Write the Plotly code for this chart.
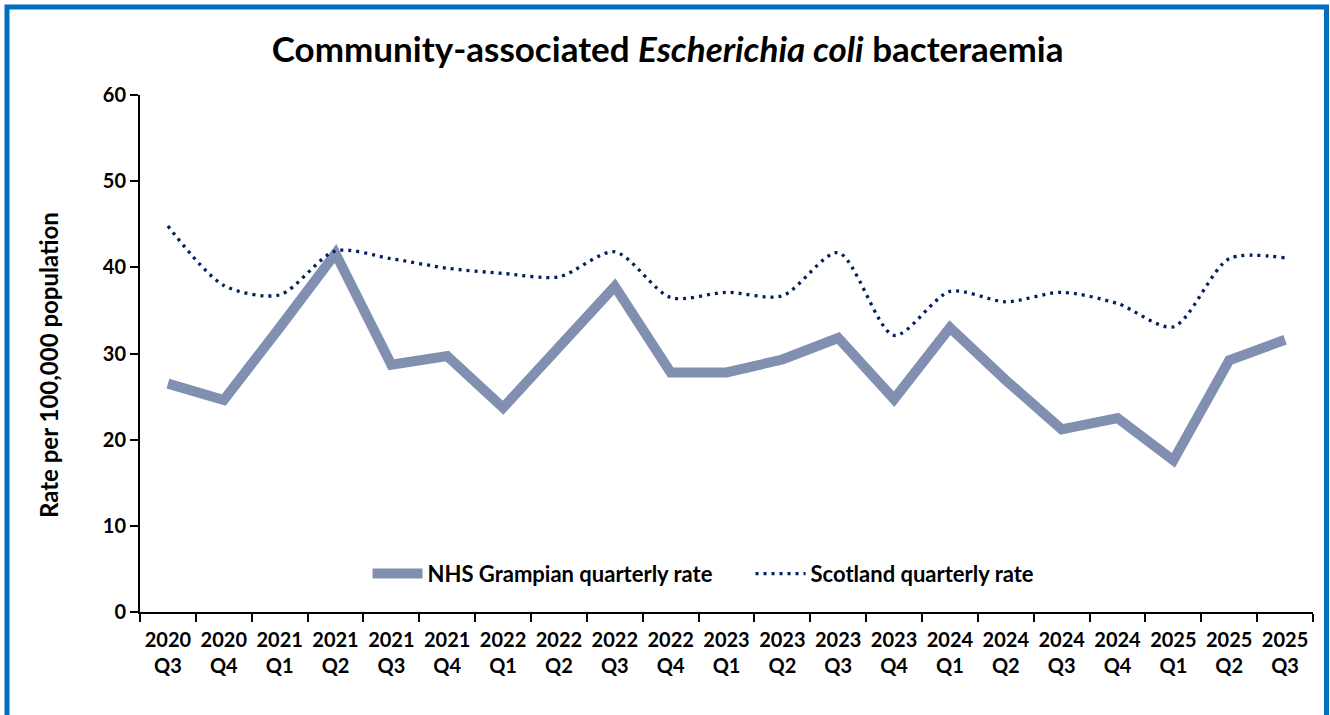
import plotly.graph_objects as go

quarters = ["2020<br>Q3", "2020<br>Q4", "2021<br>Q1", "2021<br>Q2", "2021<br>Q3", "2021<br>Q4",
            "2022<br>Q1", "2022<br>Q2", "2022<br>Q3", "2022<br>Q4", "2023<br>Q1", "2023<br>Q2",
            "2023<br>Q3", "2023<br>Q4", "2024<br>Q1", "2024<br>Q2", "2024<br>Q3", "2024<br>Q4",
            "2025<br>Q1", "2025<br>Q2", "2025<br>Q3"]
grampian = [26.5, 24.6, 33.0, 41.6, 28.7, 29.7, 23.7, 30.8, 37.8, 27.8, 27.8, 29.3,
            31.8, 24.7, 33.0, 26.9, 21.2, 22.5, 17.6, 29.2, 31.6]
scotland = [44.8, 37.9, 36.8, 41.9, 41.0, 39.9, 39.3, 38.9, 41.8, 36.5, 37.1, 36.7,
            41.7, 32.1, 37.2, 36.0, 37.1, 35.8, 33.1, 41.0, 41.1]
y_ticks = [0, 10, 20, 30, 40, 50, 60]

FONT = "Lato"

fig = go.Figure()
fig.add_trace(go.Scatter(
    x=quarters, y=grampian, mode="lines", name="<b>NHS Grampian quarterly rate</b>",
    line=dict(color="#8190B0", width=10),
))
fig.add_trace(go.Scatter(
    x=quarters, y=scotland, mode="lines", name="<b>Scotland quarterly rate</b>",
    line=dict(color="#002060", width=3.3, dash="3px,5px", shape="spline", smoothing=0.8),
))

W, H = 1330, 715
ML, MR, MT, MB = 140, 17, 95, 103
pw, ph = W - ML - MR, H - MT - MB
def px2x(p):
    return (p - ML) / pw
def py2y(p):
    return (H - MB - p) / ph

fig.update_layout(
    width=W, height=H,
    margin=dict(l=ML, r=MR, t=MT, b=MB, autoexpand=False),
    paper_bgcolor="white", plot_bgcolor="white",
    font=dict(family=FONT, color="black", size=20),
    title=dict(text="<b>Community-associated <i>Escherichia coli</i> bacteraemia</b>",
               x=0.502, xanchor="center", y=0.93, yanchor="middle",
               font=dict(size=35, family=FONT, color="black")),
    showlegend=True,
    legend=dict(orientation="h", x=0.5205, xanchor="center", y=0.074, yanchor="middle",
                font=dict(size=22, family=FONT), bgcolor="rgba(0,0,0,0)",
                itemwidth=50, entrywidth=318, entrywidthmode="pixels"),
    xaxis=dict(
        type="category", tickson="boundaries", ticks="outside", ticklen=8,
        tickwidth=2, tickcolor="black", showline=True, linecolor="black", linewidth=2,
        showgrid=False, tickfont=dict(size=20, family=FONT), tickprefix="<b>", ticksuffix="</b>",
        tickangle=0, automargin=False, ticklabelstandoff=9,
        range=[-0.5, len(quarters) - 0.5],
    ),
    yaxis=dict(
        range=[0, 60], tickvals=y_ticks, ticktext=[f"<b>{v}</b>" for v in y_ticks],
        ticks="outside", ticklen=8, tickwidth=2, tickcolor="black",
        showline=True, linecolor="black", linewidth=2, showgrid=False, zeroline=False,
        tickfont=dict(size=20, family=FONT), automargin=False,
    ),
    annotations=[dict(
        text="<b>Rate per 100,000 population</b>", textangle=-90,
        xref="paper", yref="paper", x=px2x(48), y=py2y(365),
        xanchor="center", yanchor="middle", showarrow=False,
        font=dict(size=24, family=FONT, color="black"),
    )],
)

# outer blue border
fig.add_shape(type="rect", xref="paper", yref="paper",
              x0=px2x(7), x1=px2x(1326.5), y0=py2y(7), y1=py2y(718),
              line=dict(color="#0070C0", width=5), fillcolor="rgba(0,0,0,0)", layer="below")

fig.write_html("out.html")
